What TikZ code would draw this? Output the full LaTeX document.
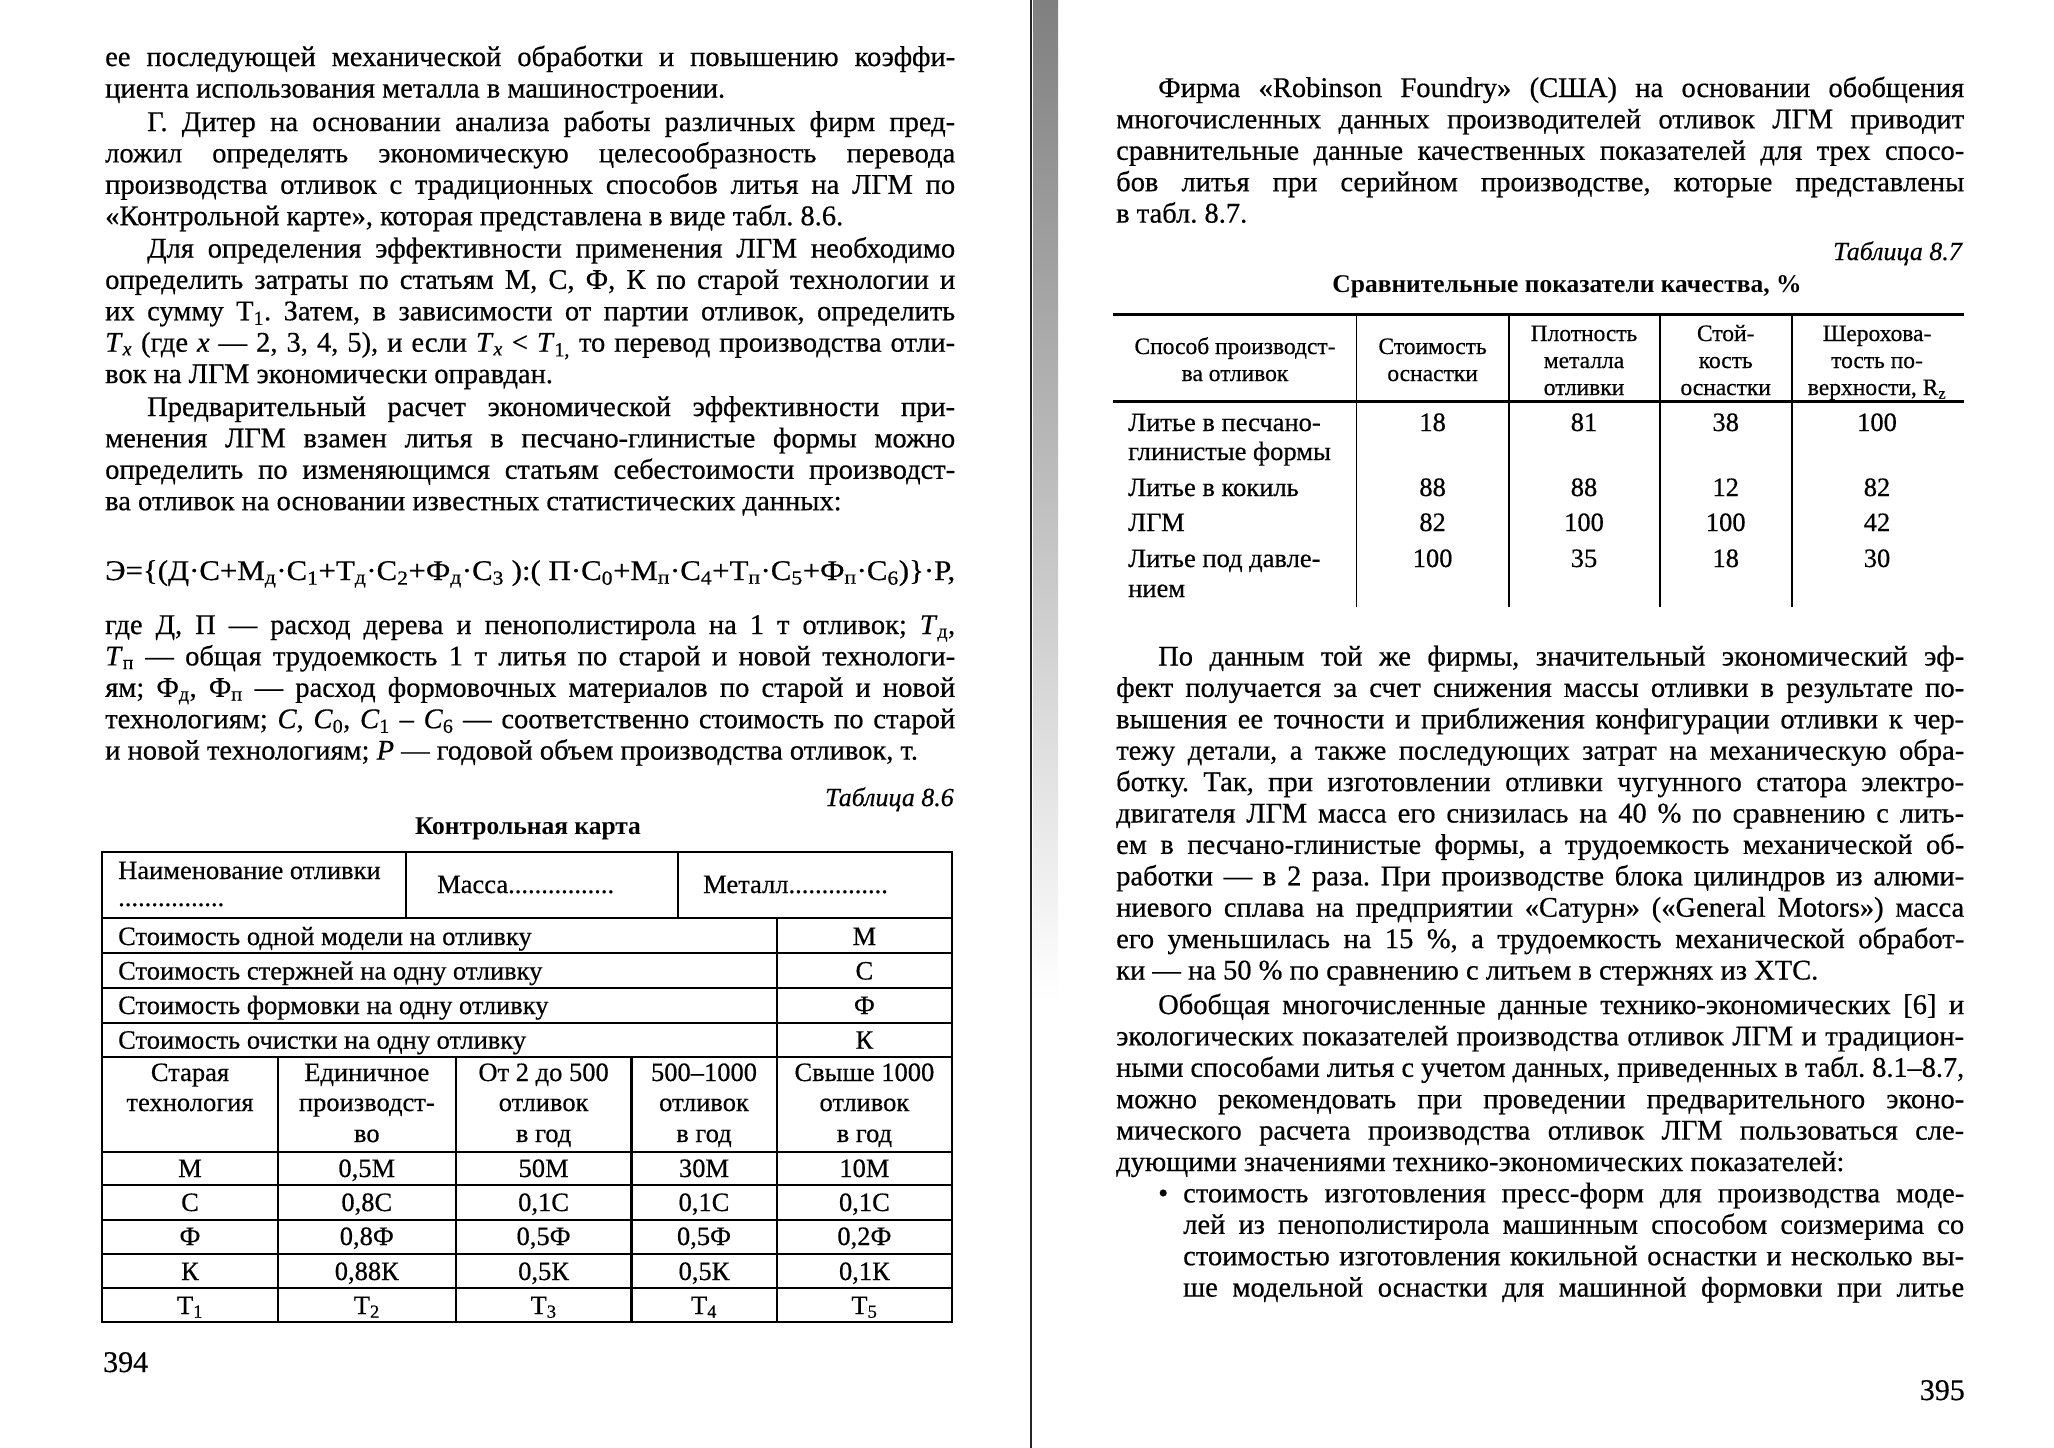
\documentclass[tikz,border=0pt]{standalone}
\usepackage{fontspec}
\setmainfont{Liberation Serif}[UprightFeatures={FakeBold=0.5},ItalicFeatures={FakeBold=0.5}]
\usepackage{graphicx}
\frenchspacing
\newlength\LWl \setlength\LWl{850pt}
\newlength\LWr \setlength\LWr{848pt}
\newlength\LWb \setlength\LWb{781pt}
\newcommand\JW[2]{\sbox0{#2}\ifdim\wd0>#1\relax\resizebox{#1}{\height}{\usebox0}\else\hbox to #1{#2}\fi}
\newcommand\JL[1]{\JW{\LWl}{#1}}
\newcommand\JLI[1]{\JW{\LWl}{\hskip42pt #1}}
\newcommand\JR[1]{\JW{\LWr}{#1}}
\newcommand\JRI[1]{\JW{\LWr}{\hskip42pt #1}}
\newcommand\JB[1]{\JW{\LWb}{#1}}
\newcommand\FitW[2]{\resizebox{#1}{\height}{#2}}
\newcommand\bodyf{\fontsize{28.5}{31.4}\selectfont}
\newcommand\tabf{\fontsize{26.5}{29}\selectfont}
\newcommand\headf{\fontsize{23.5}{27}\selectfont}
\newcommand\capf{\fontsize{25.5}{28}\selectfont\bfseries}
\newcommand\tnumf{\fontsize{26}{28}\selectfont\itshape}
\newcommand\pagef{\fontsize{30}{32}\selectfont}
\newcommand\sbs[1]{\textsubscript{#1}}
\begin{document}
\begin{tikzpicture}[x=1pt,y=-1pt,
  ln/.style={anchor=base west,inner sep=0pt,font=\bodyf},
  tl/.style={anchor=base west,inner sep=0pt,font=\tabf},
  tc/.style={anchor=base,inner sep=0pt,font=\tabf},
  hc/.style={anchor=base,inner sep=0pt,font=\headf},
  capt/.style={anchor=base,inner sep=0pt,font=\capf},
  tnum/.style={anchor=base east,inner sep=0pt,font=\tnumf},
  pnum/.style={inner sep=0pt,font=\pagef},
  rule/.style={line width=2.2pt,line cap=rect},
  thinrule/.style={line width=1.6pt}]
\useasboundingbox (0,0) rectangle (2054,1448);
\fill[white] (0,0) rectangle (2054,1448);
% gutter
\shade[top color=black!50,bottom color=white] (1033,0) rectangle (1058,1000);
\draw[line width=2pt,black!85] (1031,0) -- (1031,1448);
% ---------------- left page ----------------
\node[ln] (l1) at (105,66) {\JL{ее последующей механической обработки и повышению коэффи-}};
\node[ln] (l2) at (105,97.5) {циента использования металла в машиностроении.};
\node[ln] (l3) at (105,131) {\JLI{Г. Дитер на основании анализа работы различных фирм пред-}};
\node[ln] (l4) at (105,162.4) {\JL{ложил определять экономическую целесообразность перевода}};
\node[ln] (l5) at (105,193.8) {\JL{производства отливок с традиционных способов литья на ЛГМ по}};
\node[ln] (l6) at (105,225.2) {«Контрольной карте», которая представлена в виде табл. 8.6.};
\node[ln] (l7) at (105,257.5) {\JLI{Для определения эффективности применения ЛГМ необходимо}};
\node[ln] (l8) at (105,288.9) {\JL{определить затраты по статьям М, С, Ф, К по старой технологии и}};
\node[ln] (l9) at (105,320.3) {\JL{их сумму Т\sbs{1}. Затем, в зависимости от партии отливок, определить}};
\node[ln] (l10) at (105,351.7) {\JL{\textit{T}\sbs{\textit{x}} (где \textit{x} — 2, 3, 4, 5), и если \textit{T}\sbs{\textit{x}} < \textit{T}\sbs{1,} то перевод производства отли-}};
\node[ln] (l11) at (105,383.1) {вок на ЛГМ экономически оправдан.};
\node[ln] (l12) at (105,416) {\JLI{Предварительный расчет экономической эффективности при-}};
\node[ln] (l13) at (105,447.4) {\JL{менения ЛГМ взамен литья в песчано-глинистые формы можно}};
\node[ln] (l14) at (105,478.8) {\JL{определить по изменяющимся статьям себестоимости производст-}};
\node[ln] (l15) at (105,510.2) {ва отливок на основании известных статистических данных:};
\node[ln] (frm) at (105,580) {\FitW{\LWl}{Э=\{(Д·С+М\sbs{д}·С\sbs{1}+Т\sbs{д}·С\sbs{2}+Ф\sbs{д}·С\sbs{3} ):( П·С\sbs{0}+М\sbs{п}·С\sbs{4}+Т\sbs{п}·С\sbs{5}+Ф\sbs{п}·С\sbs{6})\}·Р,}};
\node[ln] (g1) at (105,634) {\JL{где Д, П — расход дерева и пенополистирола на 1 т отливок; \textit{Т}\sbs{д},}};
\node[ln] (g2) at (105,665.4) {\JL{\textit{Т}\sbs{п} — общая трудоемкость 1 т литья по старой и новой технологи-}};
\node[ln] (g3) at (105,696.8) {\JL{ям; Ф\sbs{д}, Ф\sbs{п} — расход формовочных материалов по старой и новой}};
\node[ln] (g4) at (105,728.2) {\JL{технологиям; \textit{С}, \textit{С}\sbs{0}, \textit{С}\sbs{1} – \textit{С}\sbs{6} — соответственно стоимость по старой}};
\node[ln] (g5) at (105,759.6) {и новой технологиям; \textit{Р} — годовой объем производства отливок, т.};
\node[tnum] (t86) at (954,806) {Таблица 8.6};
\node[capt] (c86) at (528,834) {Контрольная карта};
% table 8.6 grid
\draw[rule] (102,851.7) rectangle (952,1322);
\foreach \yy in {918.3,953.3,987.7,1022.7,1056.7,1151.7,1185,1220,1254,1288.3}
  \draw[rule] (102,\yy) -- (952,\yy);
\draw[rule] (406,851.7) -- (406,918.3);
\draw[rule] (678,851.7) -- (678,918.3);
\draw[rule] (776.8,918.3) -- (776.8,1322);
\foreach \xx in {277.7,455.9,631.4}
  \draw[rule] (\xx,1056.7) -- (\xx,1322);
% table 8.6 text
\node[tl] (n1) at (118,879) {Наименование отливки};
\node[tl] (n2) at (118,906) {................};
\node[tl] (ms) at (437,893) {Масса................};
\node[tl] (mt) at (703,893) {Металл...............};
\node[tl] (r1) at (118,945) {Стоимость одной модели на отливку};
\node[tl] (r2) at (118,979.5) {Стоимость стержней на одну отливку};
\node[tl] (r3) at (118,1014) {Стоимость формовки на одну отливку};
\node[tl] (r4) at (118,1048.7) {Стоимость очистки на одну отливку};
\node[tc] (s1) at (864.4,945) {М};
\node[tc] (s2) at (864.4,979.5) {С};
\node[tc] (s3) at (864.4,1014) {Ф};
\node[tc] (s4) at (864.4,1048.7) {К};
\node[tc] (h1a) at (190,1081) {Старая};
\node[tc] (h1b) at (190,1111) {технология};
\node[tc] (h2a) at (366.8,1081) {Единичное};
\node[tc] (h2b) at (366.8,1111) {производст-};
\node[tc] (h2c) at (366.8,1142) {во};
\node[tc] (h3a) at (543.6,1081) {От 2 до 500};
\node[tc] (h3b) at (543.6,1111) {отливок};
\node[tc] (h3c) at (543.6,1142) {в год};
\node[tc] (h4a) at (704,1081) {500–1000};
\node[tc] (h4b) at (704,1111) {отливок};
\node[tc] (h4c) at (704,1142) {в год};
\node[tc] (h5a) at (864.4,1081) {Свыше 1000};
\node[tc] (h5b) at (864.4,1111) {отливок};
\node[tc] (h5c) at (864.4,1142) {в год};
\node[tc] (d11) at (190,1177) {М};
\node[tc] (d12) at (366.8,1177) {0,5М};
\node[tc] (d13) at (543.6,1177) {50М};
\node[tc] (d14) at (704,1177) {30М};
\node[tc] (d15) at (864.4,1177) {10М};
\node[tc] (d21) at (190,1211) {С};
\node[tc] (d22) at (366.8,1211) {0,8С};
\node[tc] (d23) at (543.6,1211) {0,1С};
\node[tc] (d24) at (704,1211) {0,1С};
\node[tc] (d25) at (864.4,1211) {0,1С};
\node[tc] (d31) at (190,1245) {Ф};
\node[tc] (d32) at (366.8,1245) {0,8Ф};
\node[tc] (d33) at (543.6,1245) {0,5Ф};
\node[tc] (d34) at (704,1245) {0,5Ф};
\node[tc] (d35) at (864.4,1245) {0,2Ф};
\node[tc] (d41) at (190,1280) {К};
\node[tc] (d42) at (366.8,1280) {0,88К};
\node[tc] (d43) at (543.6,1280) {0,5К};
\node[tc] (d44) at (704,1280) {0,5К};
\node[tc] (d45) at (864.4,1280) {0,1К};
\node[tc] (d51) at (190,1314) {Т\sbs{1}};
\node[tc] (d52) at (366.8,1314) {Т\sbs{2}};
\node[tc] (d53) at (543.6,1314) {Т\sbs{3}};
\node[tc] (d54) at (704,1314) {Т\sbs{4}};
\node[tc] (d55) at (864.4,1314) {Т\sbs{5}};
\node[pnum,anchor=base west] (p394) at (103,1372) {394};
% ---------------- right page ----------------
\node[ln] (q1) at (1116,97) {\JRI{Фирма «Robinson Foundry» (США) на основании обобщения}};
\node[ln] (q2) at (1116,128.4) {\JR{многочисленных данных производителей отливок ЛГМ приводит}};
\node[ln] (q3) at (1116,159.8) {\JR{сравнительные данные качественных показателей для трех спосо-}};
\node[ln] (q4) at (1116,191.2) {\JR{бов литья при серийном производстве, которые представлены}};
\node[ln] (q5) at (1116,222.6) {в табл. 8.7.};
\node[tnum] (t87) at (1962,260) {Таблица 8.7};
\node[capt] (c87) at (1567,292) {Сравнительные показатели качества, \%};
% table 8.7 grid
\draw[rule] (1114,314.5) -- (1963,314.5);
\draw[rule] (1114,401.5) -- (1963,401.5);
\foreach \xx in {1356.6,1508.7,1659.7,1791.7}
  \draw[thinrule] (\xx,314.5) -- (\xx,607);
\node[hc] (k1a) at (1235,354) {Способ производст-};
\node[hc] (k1b) at (1235,381) {ва отливок};
\node[hc] (k2a) at (1432.6,354) {Стоимость};
\node[hc] (k2b) at (1432.6,381) {оснастки};
\node[hc] (k3a) at (1584,341) {Плотность};
\node[hc] (k3b) at (1584,368) {металла};
\node[hc] (k3c) at (1584,395) {отливки};
\node[hc] (k4a) at (1725.7,341) {Стой-};
\node[hc] (k4b) at (1725.7,368) {кость};
\node[hc] (k4c) at (1725.7,395) {оснастки};
\node[hc] (k5a) at (1877,341) {Шерохова-};
\node[hc] (k5b) at (1877,368) {тость по-};
\node[hc] (k5c) at (1877,395) {верхности, R\sbs{z}};
\node[tl] (m1a) at (1128,431) {Литье в песчано-};
\node[tl] (m1b) at (1128,460) {глинистые формы};
\node[tl] (m2) at (1128,496) {Литье в кокиль};
\node[tl] (m3) at (1128,531) {ЛГМ};
\node[tl] (m4a) at (1128,567) {Литье под давле-};
\node[tl] (m4b) at (1128,597) {нием};
\node[tc] (v12) at (1432.6,431) {18};
\node[tc] (v13) at (1584,431) {81};
\node[tc] (v14) at (1725.7,431) {38};
\node[tc] (v15) at (1877,431) {100};
\node[tc] (v22) at (1432.6,496) {88};
\node[tc] (v23) at (1584,496) {88};
\node[tc] (v24) at (1725.7,496) {12};
\node[tc] (v25) at (1877,496) {82};
\node[tc] (v32) at (1432.6,531) {82};
\node[tc] (v33) at (1584,531) {100};
\node[tc] (v34) at (1725.7,531) {100};
\node[tc] (v35) at (1877,531) {42};
\node[tc] (v42) at (1432.6,567) {100};
\node[tc] (v43) at (1584,567) {35};
\node[tc] (v44) at (1725.7,567) {18};
\node[tc] (v45) at (1877,567) {30};
\node[ln] (q6) at (1116,665.5) {\JRI{По данным той же фирмы, значительный экономический эф-}};
\node[ln] (q7) at (1116,696.9) {\JR{фект получается за счет снижения массы отливки в результате по-}};
\node[ln] (q8) at (1116,728.3) {\JR{вышения ее точности и приближения конфигурации отливки к чер-}};
\node[ln] (q9) at (1116,759.7) {\JR{тежу детали, а также последующих затрат на механическую обра-}};
\node[ln] (q10) at (1116,791.1) {\JR{ботку. Так, при изготовлении отливки чугунного статора электро-}};
\node[ln] (q11) at (1116,822.5) {\JR{двигателя ЛГМ масса его снизилась на 40 \% по сравнению с лить-}};
\node[ln] (q12) at (1116,853.9) {\JR{ем в песчано-глинистые формы, а трудоемкость механической об-}};
\node[ln] (q13) at (1116,885.3) {\JR{работки — в 2 раза. При производстве блока цилиндров из алюми-}};
\node[ln] (q14) at (1116,916.7) {\JR{ниевого сплава на предприятии «Сатурн» («General Motors») масса}};
\node[ln] (q15) at (1116,948.1) {\JR{его уменьшилась на 15 \%, а трудоемкость механической обработ-}};
\node[ln] (q16) at (1116,979.5) {ки — на 50 \% по сравнению с литьем в стержнях из ХТС.};
\node[ln] (q17) at (1116,1014) {\JRI{Обобщая многочисленные данные технико-экономических [6] и}};
\node[ln] (q18) at (1116,1045.4) {\JR{экологических показателей производства отливок ЛГМ и традицион-}};
\node[ln] (q19) at (1116,1076.8) {\JR{ными способами литья с учетом данных, приведенных в табл. 8.1–8.7,}};
\node[ln] (q20) at (1116,1108.2) {\JR{можно рекомендовать при проведении предварительного эконо-}};
\node[ln] (q21) at (1116,1139.6) {\JR{мического расчета производства отливок ЛГМ пользоваться сле-}};
\node[ln] (q22) at (1116,1171) {дующими значениями технико-экономических показателей:};
\node[ln] (bul) at (1158,1202.4) {•};
\node[ln] (q23) at (1183,1202.4) {\JB{стоимость изготовления пресс-форм для производства моде-}};
\node[ln] (q24) at (1183,1233.8) {\JB{лей из пенополистирола машинным способом соизмерима со}};
\node[ln] (q25) at (1183,1265.2) {\JB{стоимостью изготовления кокильной оснастки и несколько вы-}};
\node[ln] (q26) at (1183,1296.6) {\JB{ше модельной оснастки для машинной формовки при литье}};
\node[pnum,anchor=base east] (p395) at (1965,1400) {395};
\end{tikzpicture}
\end{document}
